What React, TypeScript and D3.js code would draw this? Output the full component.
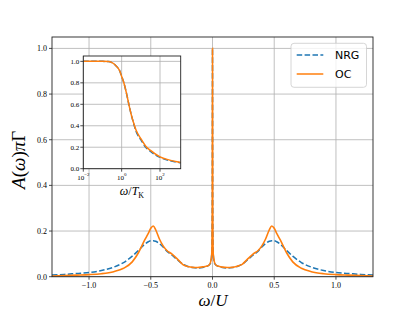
import React from "react";
import * as d3 from "d3";

// main panel: spectral function A(w) pi Gamma vs w/U
const omega = [
  -1.3, -1.2, -1.1, -1.0, -0.9, -0.8, -0.72, -0.65, -0.6, -0.55, -0.52, -0.5, -0.48, -0.46, -0.43, -0.4,
  -0.37, -0.33, -0.28, -0.24, -0.2, -0.16, -0.12, -0.08, -0.05, -0.03, -0.015, -0.006, -0.002, 0,
  0.002, 0.006, 0.015, 0.03, 0.05, 0.08, 0.12, 0.16, 0.2, 0.24, 0.28, 0.33, 0.37, 0.4, 0.43, 0.46,
  0.48, 0.5, 0.52, 0.55, 0.6, 0.65, 0.72, 0.8, 0.9, 1.0, 1.1, 1.2, 1.3,
];
const ocMain = [
  0.003, 0.005, 0.007, 0.009, 0.013, 0.022, 0.037, 0.065, 0.105, 0.16, 0.19, 0.212, 0.222, 0.205, 0.165, 0.135,
  0.115, 0.1, 0.075, 0.053, 0.045, 0.041, 0.04, 0.043, 0.046, 0.05, 0.065, 0.1, 0.3, 1.0,
  0.3, 0.1, 0.065, 0.05, 0.046, 0.042, 0.04, 0.041, 0.046, 0.054, 0.075, 0.1, 0.115, 0.135, 0.165, 0.205,
  0.222, 0.212, 0.19, 0.16, 0.105, 0.065, 0.037, 0.022, 0.013, 0.009, 0.007, 0.005, 0.003,
];
const nrgMain = [
  0.007, 0.01, 0.014, 0.018, 0.027, 0.042, 0.062, 0.09, 0.115, 0.142, 0.153, 0.158, 0.158, 0.155, 0.145, 0.13,
  0.112, 0.095, 0.072, 0.055, 0.045, 0.04, 0.038, 0.04, 0.045, 0.05, 0.06, 0.1, 0.3, 1.0,
  0.3, 0.1, 0.06, 0.05, 0.045, 0.04, 0.038, 0.04, 0.045, 0.055, 0.072, 0.095, 0.112, 0.13, 0.145, 0.155,
  0.158, 0.158, 0.153, 0.142, 0.115, 0.09, 0.062, 0.042, 0.027, 0.018, 0.014, 0.01, 0.007,
];

// inset: normalized spectral weight vs w/T_K (log scale)
const wTk = [0.01, 0.03, 0.1, 0.2, 0.3, 0.5, 0.8, 1, 1.3, 1.8, 2.5, 3.2, 4, 5.6, 10, 18, 32, 100, 320, 1000, 1200];
const ocInset = [1.0, 1.0, 1.0, 0.998, 0.99, 0.96, 0.91, 0.86, 0.8, 0.7, 0.58, 0.5, 0.44, 0.36, 0.28, 0.21, 0.17, 0.11, 0.08, 0.06, 0.057];
const nrgInset = [1.0, 1.0, 1.0, 0.998, 0.99, 0.96, 0.91, 0.86, 0.8, 0.7, 0.58, 0.5, 0.435, 0.35, 0.27, 0.2, 0.16, 0.105, 0.075, 0.057, 0.054];

const xTicks = [-1.0, -0.5, 0.0, 0.5, 1.0];
const yTicks = [0.0, 0.2, 0.4, 0.6, 0.8, 1.0];
const insetXTicks = [-2, 0, 2];
const insetYTicks = [0.0, 0.2, 0.4, 0.6, 0.8, 1.0];

const BLUE = "#1f77b4";
const ORANGE = "#ff7f0e";
const GRID = "#b0b0b0";
const SERIF = "'Liberation Serif', 'DejaVu Serif', serif";
const SANS = "'DejaVu Sans', sans-serif";

const fmt = (v: number) => (v < 0 ? "\u2212" : "") + Math.abs(v).toFixed(1);

const App: React.FC = () => {
  const W = 415;
  const H = 311;
  const m = { left: 52, right: 373, top: 37, bottom: 276.7 };
  const ins = { left: 83.3, right: 180.7, top: 56, bottom: 168.7 };

  const x = d3.scaleLinear().domain([-1.3, 1.3]).range([m.left, m.right]);
  const y = d3.scaleLinear().domain([0, 1.05]).range([m.bottom, m.top]);
  const xi = d3.scaleLog().domain([0.01, 1200]).range([ins.left, ins.right]);
  const yi = d3.scaleLinear().domain([0, 1.05]).range([ins.bottom, ins.top]);

  const mainLine = (vals: number[]) =>
    d3.line<number>()
      .x((_, i) => x(omega[i]))
      .y(d => y(d))
      .curve(d3.curveMonotoneX)(vals) || "";
  const insetLine = (vals: number[]) =>
    d3.line<number>()
      .x((_, i) => xi(wTk[i]))
      .y(d => yi(d))
      .curve(d3.curveMonotoneX)(vals) || "";

  return (
    <svg width={W} height={H} style={{ position: "absolute", left: 0, top: 0, background: "#fff" }}>
      <defs>
        <clipPath id="mainClip">
          <rect x={m.left} y={m.top} width={m.right - m.left} height={m.bottom - m.top} />
        </clipPath>
        <clipPath id="insetClip">
          <rect x={ins.left} y={ins.top} width={ins.right - ins.left} height={ins.bottom - ins.top} />
        </clipPath>
      </defs>

      {/* main grid */}
      {xTicks.map(t => (
        <line key={"gx" + t} x1={x(t)} x2={x(t)} y1={m.top} y2={m.bottom} stroke={GRID} strokeWidth={0.8} />
      ))}
      {yTicks.map(t => (
        <line key={"gy" + t} x1={m.left} x2={m.right} y1={y(t)} y2={y(t)} stroke={GRID} strokeWidth={0.8} />
      ))}

      {/* main curves */}
      <g clipPath="url(#mainClip)">
        <path d={mainLine(nrgMain)} fill="none" stroke={BLUE} strokeWidth={1.5} strokeDasharray="5.5,2.4" />
        <path d={mainLine(ocMain)} fill="none" stroke={ORANGE} strokeWidth={1.6} />
      </g>

      {/* main frame + ticks */}
      <rect x={m.left} y={m.top} width={m.right - m.left} height={m.bottom - m.top} fill="none" stroke="#222" strokeWidth={0.9} />
      {xTicks.map(t => (
        <g key={"xt" + t}>
          <line x1={x(t)} x2={x(t)} y1={m.bottom} y2={m.bottom + 3} stroke="#222" strokeWidth={0.8} />
          <text x={x(t)} y={m.bottom + 11} textAnchor="middle" fontFamily={SERIF} fontSize={8}>{fmt(t)}</text>
        </g>
      ))}
      {yTicks.map(t => (
        <g key={"yt" + t}>
          <line x1={m.left - 3} x2={m.left} y1={y(t)} y2={y(t)} stroke="#222" strokeWidth={0.8} />
          <text x={m.left - 5} y={y(t) + 2.8} textAnchor="end" fontFamily={SERIF} fontSize={8}>{fmt(t)}</text>
        </g>
      ))}

      {/* axis labels */}
      <text x={213} y={306} textAnchor="middle" fontFamily={SERIF} fontSize={17}>
        <tspan fontStyle="italic">ω</tspan>/<tspan fontStyle="italic">U</tspan>
      </text>
      <text transform={`translate(25, ${(m.top + m.bottom) / 2 + 3}) rotate(-90)`} textAnchor="middle" fontFamily={SERIF} fontSize={19}>
        <tspan fontStyle="italic">A</tspan>(<tspan fontStyle="italic">ω</tspan>)<tspan fontStyle="italic">π</tspan>Γ
      </text>

      {/* legend */}
      <rect x={291} y={43.3} width={75.5} height={44} rx={3} fill="#fff" fillOpacity={0.8} stroke="#ccc" strokeWidth={0.8} />
      <line x1={296.7} x2={323.3} y1={55} y2={55} stroke={BLUE} strokeWidth={1.5} strokeDasharray="5.5,2.4" />
      <line x1={296.7} x2={323.3} y1={74} y2={74} stroke={ORANGE} strokeWidth={1.5} />
      <text x={335} y={59} fontFamily={SANS} fontSize={11}>NRG</text>
      <text x={335} y={78} fontFamily={SANS} fontSize={11}>OC</text>

      {/* inset */}
      <rect x={ins.left} y={ins.top} width={ins.right - ins.left} height={ins.bottom - ins.top} fill="#fff" />
      {insetXTicks.map(p => (
        <line key={"igx" + p} x1={xi(Math.pow(10, p))} x2={xi(Math.pow(10, p))} y1={ins.top} y2={ins.bottom} stroke={GRID} strokeWidth={0.8} />
      ))}
      {insetYTicks.map(t => (
        <line key={"igy" + t} x1={ins.left} x2={ins.right} y1={yi(t)} y2={yi(t)} stroke={GRID} strokeWidth={0.8} />
      ))}
      <g clipPath="url(#insetClip)">
        <path d={insetLine(nrgInset)} fill="none" stroke={BLUE} strokeWidth={1.5} strokeDasharray="5.5,2.4" />
        <path d={insetLine(ocInset)} fill="none" stroke={ORANGE} strokeWidth={1.5} />
      </g>
      <rect x={ins.left} y={ins.top} width={ins.right - ins.left} height={ins.bottom - ins.top} fill="none" stroke="#222" strokeWidth={0.9} />
      {insetXTicks.map(p => (
        <g key={"ixt" + p}>
          <line x1={xi(Math.pow(10, p))} x2={xi(Math.pow(10, p))} y1={ins.bottom} y2={ins.bottom + 3} stroke="#222" strokeWidth={0.8} />
          <text x={xi(Math.pow(10, p))} y={ins.bottom + 11} textAnchor="middle" fontFamily={SERIF} fontSize={7}>
            10<tspan dy={-3.5} fontSize={5}>{p < 0 ? "\u2212" + Math.abs(p) : String(p)}</tspan>
          </text>
        </g>
      ))}
      {insetYTicks.map(t => (
        <g key={"iyt" + t}>
          <line x1={ins.left - 3} x2={ins.left} y1={yi(t)} y2={yi(t)} stroke="#222" strokeWidth={0.8} />
          <text x={ins.left - 4} y={yi(t) + 2.5} textAnchor="end" fontFamily={SERIF} fontSize={7}>{fmt(t)}</text>
        </g>
      ))}
      <text x={132} y={195} textAnchor="middle" fontFamily={SERIF} fontSize={12}>
        <tspan fontStyle="italic">ω</tspan>/<tspan fontStyle="italic">T</tspan>
        <tspan dy={2.5} fontSize={8}>K</tspan>
      </text>
    </svg>
  );
};

export default App;
